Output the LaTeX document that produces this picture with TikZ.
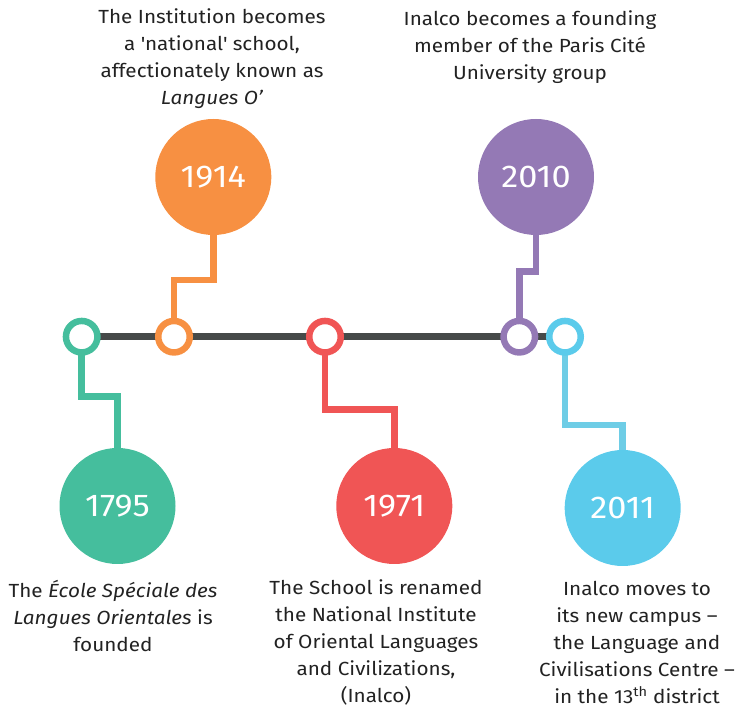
\documentclass[tikz,border=0pt]{standalone}
\usepackage{fontspec}
\setmainfont{Fira Sans}[FakeStretch=1.09]
\usetikzlibrary{backgrounds}
\definecolor{cteal}{RGB}{69,190,157}
\definecolor{corange}{RGB}{247,144,66}
\definecolor{cred}{RGB}{240,85,85}
\definecolor{cpurple}{RGB}{148,121,181}
\definecolor{ccyan}{RGB}{91,203,235}
\definecolor{ccyanl}{RGB}{110,205,230}
\definecolor{cdark}{RGB}{70,74,73}
\definecolor{ctext}{RGB}{34,34,34}
\tikzset{
  year/.style={circle, fill=#1, minimum size=116pt, inner sep=0pt, text=white, font=\fontsize{31.5}{31.5}\selectfont},
  dot/.style={circle, draw=#1, fill=white, line width=6.5pt, minimum size=31.5pt, inner sep=0pt},
  link/.style={draw=#1, line width=6.5pt},
  desc/.style={align=center, text=ctext, font=\fontsize{19}{27}\selectfont, inner sep=0pt},
}
\begin{document}
\begin{tikzpicture}[x=1pt,y=1pt]
\useasboundingbox (0,0) rectangle (737,-708);
% small dots on the axis
\node[dot=cteal]   (d1795) at (81.7,-336.7) {};
\node[dot=corange] (d1914) at (174,-336.7) {};
\node[dot=cred]    (d1971) at (325,-336.7) {};
\node[dot=cpurple] (d2010) at (519.3,-336.7) {};
\node[dot=ccyan]   (d2011) at (565,-336.7) {};
% year circles
\node[year=cteal]   (y1795) at (117.5,-506) {1795};
\node[year=corange] (y1914) at (213.3,-177) {1914};
\node[year=cred]    (y1971) at (394.3,-506) {1971};
\node[year=cpurple] (y2010) at (536,-177) {2010};
\node[year=ccyan]   (y2011) at (622.7,-508) {2011};
% descriptions
\node[desc] (t1914) at (212,-59) {The Institution becomes\\a \textquotesingle national\textquotesingle\ school,\\affectionately known as\\\textit{Langues O’}};
\node[desc] (t2010) at (530,-47) {Inalco becomes a founding\\member of the Paris Cité\\University group};
\node[desc] (t1795) at (113,-616) {The \textit{École Spéciale des}\\\textit{Langues Orientales} is\\founded};
\node[desc] (t1971) at (376,-642) {The School is renamed\\the National Institute\\of Oriental Languages\\and Civilizations,\\(Inalco)};
\node[desc] (t2011) at (637,-642) {Inalco moves to\\its new campus –\\the Language and\\Civilisations Centre –\\in the 13\textsuperscript{th} district};
\begin{scope}[on background layer]
  \draw[link=cdark] (d1795.center) -- (d2011.center);
  \draw[link=cteal] (d1795.center) -- (d1795 |- 0,-396.7) -| (y1795.center);
  \draw[link=corange] (d1914.center) -- (d1914 |- 0,-280) -| (y1914.center);
  \draw[link=cred] (d1971.center) -- (d1971 |- 0,-409.3) -| (y1971.center);
  \draw[link=cpurple] (d2010.center) -- (d2010 |- 0,-271.7) -| (y2010.center);
  \draw[link=ccyanl] (d2011.center) -- (d2011 |- 0,-425) -| (y2011.center);
\end{scope}
\end{tikzpicture}
\end{document}
